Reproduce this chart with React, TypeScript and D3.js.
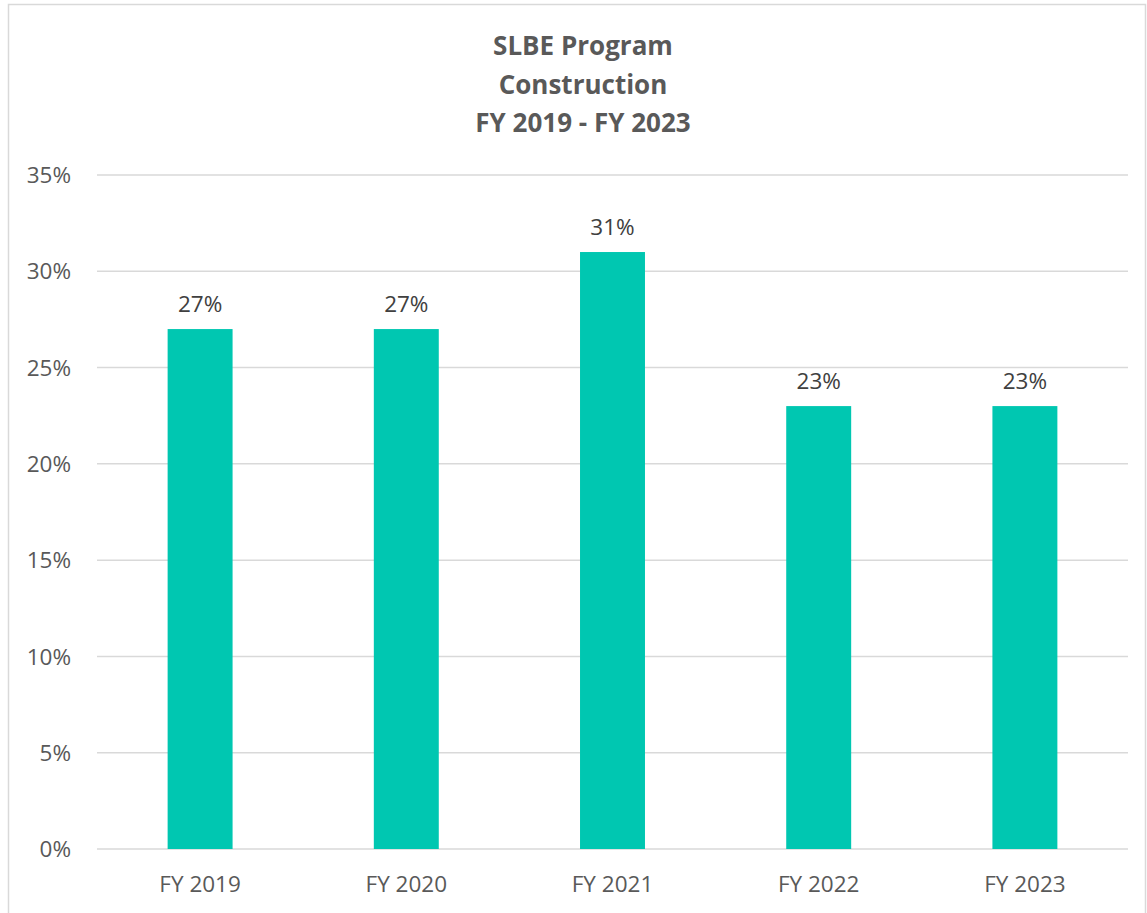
import * as d3 from "d3";
import React from "react";

const categories = ["FY 2019", "FY 2020", "FY 2021", "FY 2022", "FY 2023"];
const values = [0.27, 0.27, 0.31, 0.23, 0.23];
const yTicks = [0, 0.05, 0.1, 0.15, 0.2, 0.25, 0.3, 0.35];
const titleLines = ["SLBE Program", "Construction", "FY 2019 - FY 2023"];

const width = 1147;
const height = 913;
const plot = { left: 97, right: 1128, top: 175, bottom: 849 };
const font = "'Open Sans', 'Segoe UI', sans-serif";
const textColor = "#595959";

export default function App() {
  const x = d3
    .scaleBand()
    .domain(categories)
    .range([plot.left, plot.right])
    .paddingInner(0.685)
    .paddingOuter(0.3425);
  const y = d3.scaleLinear().domain([0, 0.35]).range([plot.bottom, plot.top]);
  const pct = d3.format(".0%");

  return (
    <svg
      width={width}
      height={height}
      style={{ position: "absolute", left: 0, top: 0 }}
      fontFamily={font}
    >
      <rect x={0} y={0} width={width} height={height} fill="#fff" />
      <rect
        x={8.5}
        y={4.5}
        width={width - 10}
        height={height + 10}
        fill="none"
        stroke="#d9d9d9"
        strokeWidth={1.5}
      />
      {titleLines.map((t, i) => (
        <text
          key={t}
          x={583}
          y={55 + i * 38.5}
          textAnchor="middle"
          fontSize={26}
          fontWeight="bold"
          fill={textColor}
        >
          {t}
        </text>
      ))}
      {yTicks.map((t) => (
        <g key={t}>
          <line
            x1={plot.left}
            x2={plot.right}
            y1={y(t)}
            y2={y(t)}
            stroke="#d9d9d9"
            strokeWidth={1.5}
          />
          <text
            x={71}
            y={y(t)}
            dy="0.36em"
            textAnchor="end"
            fontSize={22.5}
            fill={textColor}
          >
            {pct(t)}
          </text>
        </g>
      ))}
      {categories.map((c, i) => (
        <g key={c}>
          <rect
            x={x(c)}
            y={y(values[i])}
            width={x.bandwidth()}
            height={y(0) - y(values[i])}
            fill="#00c7b1"
          />
          <text
            x={x(c)! + x.bandwidth() / 2}
            y={y(values[i]) - 17}
            textAnchor="middle"
            fontSize={22.5}
            fill="#404040"
          >
            {pct(values[i])}
          </text>
          <text
            x={x(c)! + x.bandwidth() / 2}
            y={y(0) + 43}
            textAnchor="middle"
            fontSize={22.5}
            fill={textColor}
          >
            {c}
          </text>
        </g>
      ))}
    </svg>
  );
}
